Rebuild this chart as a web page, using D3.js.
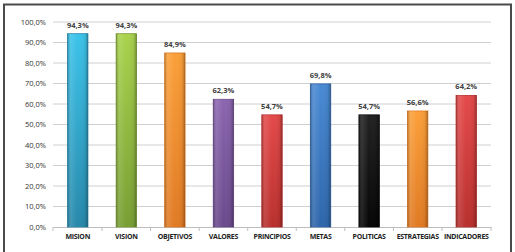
<!DOCTYPE html>
<html>
<head>
<meta charset="utf-8">
<script src="https://cdn.jsdelivr.net/npm/d3@7"></script>
<style>
  body { margin: 0; background: #fff; }
  svg { display: block; }
</style>
</head>
<body>
<div id="chart"></div>
<script>
// datos
const categorias = ["MISION", "VISION", "OBJETIVOS", "VALORES", "PRINCIPIOS", "METAS", "POLITICAS", "ESTRATEGIAS", "INDICADORES"];
const valores = [94.3, 94.3, 84.9, 62.3, 54.7, 69.8, 54.7, 56.6, 64.2];
const coloresTop = ["#3cc3ea", "#a9d24c", "#fba03a", "#8c66b0", "#e44a4a", "#4a8ad4", "#222222", "#fba03a", "#e44a4a"];
const coloresBot = ["#2788aa", "#789e34", "#e07a24", "#6a4a8c", "#b8302e", "#2e66aa", "#050505", "#e07a24", "#b8302e"];
const ticksY = [0, 10, 20, 30, 40, 50, 60, 70, 80, 90, 100];

const W = 515, H = 252;
const margin = {top: 22, right: 24, bottom: 25, left: 53};
const width = 491 - margin.left;
const height = 227 - margin.top;

const svg = d3.select("#chart").append("svg")
    .attr("width", W)
    .attr("height", H);

// marco
svg.append("rect")
    .attr("x", 4).attr("y", 4.5)
    .attr("width", 507).attr("height", 260)
    .attr("fill", "none")
    .attr("stroke", "#4a4a4a")
    .attr("stroke-width", 2);

const defs = svg.append("defs");
categorias.forEach((c, i) => {
    const g = defs.append("linearGradient")
        .attr("id", "grad" + i)
        .attr("x1", 0).attr("y1", 0).attr("x2", 0).attr("y2", 1);
    g.append("stop").attr("offset", "0%").attr("stop-color", coloresTop[i]);
    g.append("stop").attr("offset", "100%").attr("stop-color", coloresBot[i]);
});
const gh = defs.append("linearGradient")
    .attr("id", "brillo")
    .attr("x1", 0).attr("y1", 0).attr("x2", 1).attr("y2", 0);
gh.append("stop").attr("offset", "0%").attr("stop-color", "#000").attr("stop-opacity", 0.25);
gh.append("stop").attr("offset", "15%").attr("stop-color", "#fff").attr("stop-opacity", 0.12);
gh.append("stop").attr("offset", "50%").attr("stop-color", "#fff").attr("stop-opacity", 0);
gh.append("stop").attr("offset", "85%").attr("stop-color", "#000").attr("stop-opacity", 0.05);
gh.append("stop").attr("offset", "100%").attr("stop-color", "#000").attr("stop-opacity", 0.3);

const g = svg.append("g")
    .attr("transform", `translate(${margin.left},${margin.top})`);

const x = d3.scaleBand()
    .domain(categorias)
    .range([0, width])
    .paddingInner(0.58)
    .paddingOuter(0.3);

const y = d3.scaleLinear()
    .domain([0, 100])
    .range([height, 0]);

// rejilla
g.append("g")
    .selectAll("line")
    .data(ticksY.slice(1))
    .enter().append("line")
    .attr("x1", 0).attr("x2", width)
    .attr("y1", d => y(d)).attr("y2", d => y(d))
    .attr("stroke", "#d0d0d0")
    .attr("stroke-width", 1);

// eje Y
const ejeY = g.append("g")
    .call(d3.axisLeft(y).tickValues(ticksY).tickSize(0).tickPadding(7)
        .tickFormat(d => d.toFixed(1).replace(".", ",") + "%"));
ejeY.select(".domain").remove();
ejeY.selectAll("text")
    .style("font-family", "'Open Sans', sans-serif")
    .style("font-size", "7.5px")
    .style("fill", "#333");

// eje X
const ejeX = g.append("g")
    .attr("transform", `translate(0,${height})`)
    .call(d3.axisBottom(x).tickSize(0).tickPadding(7));
ejeX.select(".domain").attr("stroke", "#bdbdbd");
ejeX.selectAll("text")
    .style("font-family", "'Open Sans', sans-serif")
    .style("font-size", "7px")
    .style("font-weight", "bold")
    .style("letter-spacing", "-0.3px")
    .style("fill", "#222");

// marcas entre categorias
const bordes = [0].concat(categorias.map(c => x(c) + x.bandwidth() + x.step() * x.paddingInner() / 2));
bordes[bordes.length - 1] = width;
g.append("g").selectAll("line")
    .data(bordes)
    .enter().append("line")
    .attr("x1", d => d).attr("x2", d => d)
    .attr("y1", height).attr("y2", height + 4)
    .attr("stroke", "#bdbdbd");

// barras
const barras = g.selectAll(".barra")
    .data(categorias)
    .enter().append("g")
    .attr("class", "barra");

barras.append("rect")
    .attr("x", d => x(d))
    .attr("y", (d, i) => y(valores[i]))
    .attr("width", x.bandwidth())
    .attr("height", (d, i) => height - y(valores[i]))
    .attr("fill", (d, i) => `url(#grad${i})`)
    .attr("stroke", (d, i) => coloresBot[i])
    .attr("stroke-width", 0.8);

barras.append("rect")
    .attr("x", d => x(d))
    .attr("y", (d, i) => y(valores[i]))
    .attr("width", x.bandwidth())
    .attr("height", (d, i) => height - y(valores[i]))
    .attr("fill", "url(#brillo)");

// etiquetas de valor
barras.append("text")
    .attr("x", d => x(d) + x.bandwidth() / 2)
    .attr("y", (d, i) => y(valores[i]) - 6)
    .attr("text-anchor", "middle")
    .style("font-family", "'Open Sans', sans-serif")
    .style("font-size", "7.5px")
    .style("font-weight", "bold")
    .style("fill", "#404040")
    .text((d, i) => valores[i].toFixed(1).replace(".", ",") + "%");
</script>
</body>
</html>
